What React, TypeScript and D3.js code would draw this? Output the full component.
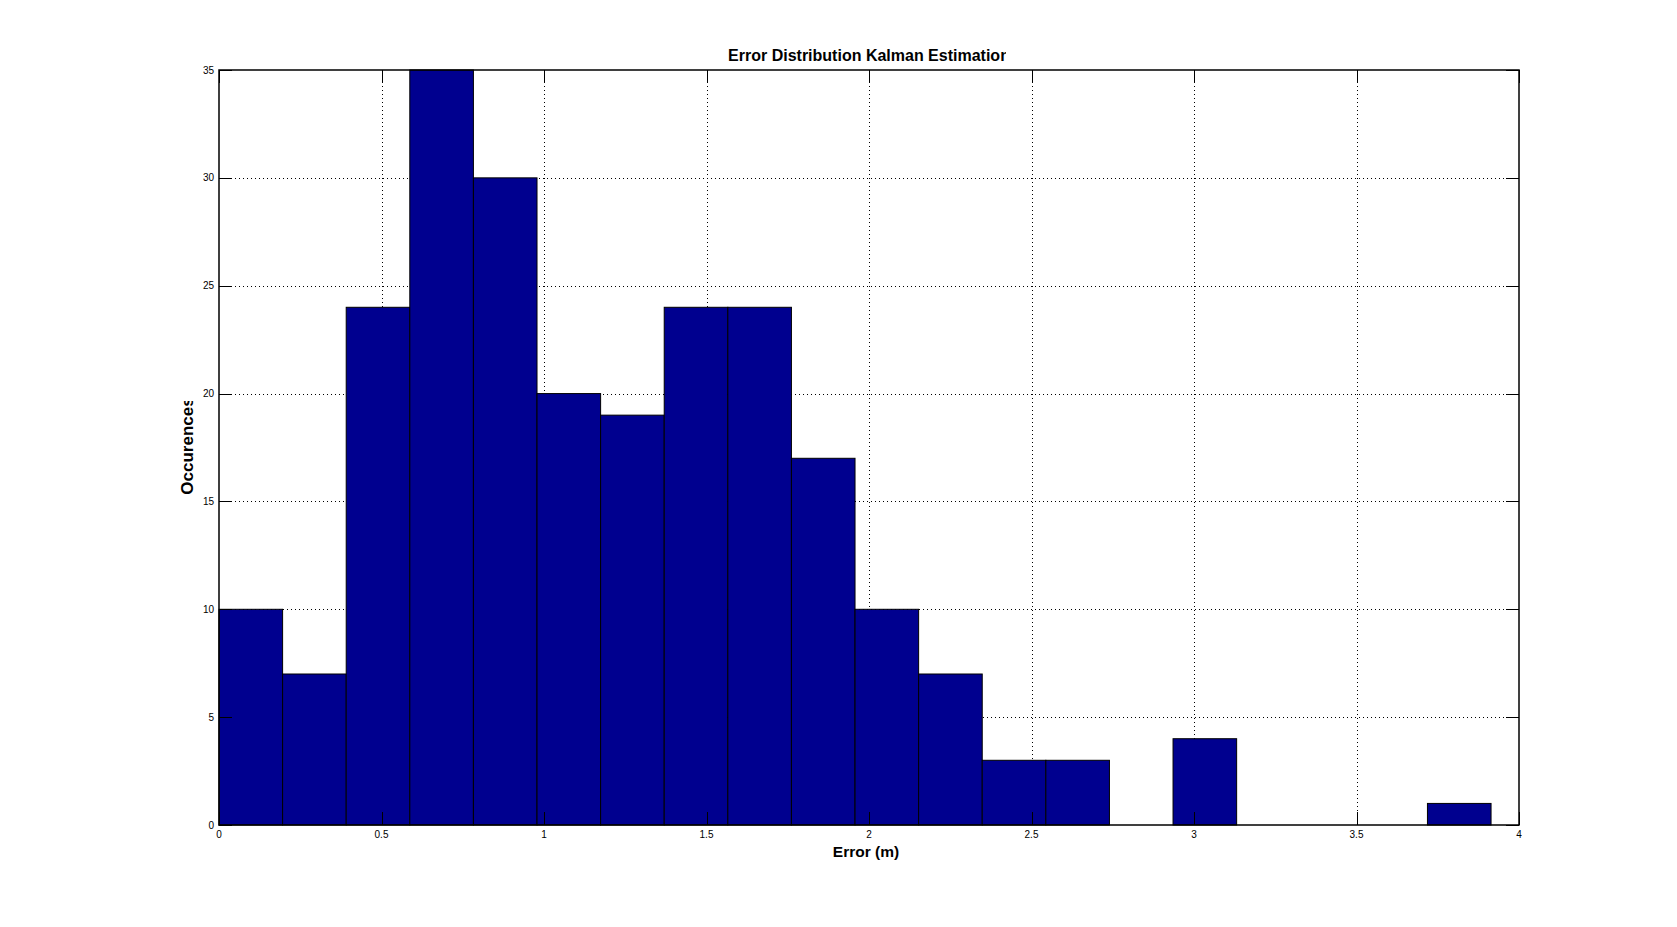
import React from 'react'
import * as d3 from 'd3'

// histogram counts, 20 equal bins starting at 0
const counts: number[] = [10, 7, 24, 35, 30, 20, 19, 24, 24, 17, 10, 7, 3, 3, 0, 4, 0, 0, 0, 1]
const binWidth = 0.1957
const xTicks: number[] = [0, 0.5, 1, 1.5, 2, 2.5, 3, 3.5, 4]
const yTicks: number[] = [0, 5, 10, 15, 20, 25, 30, 35]
const title = 'Error Distribution Kalman Estimation'
const xLabel = 'Error (m)'
const yLabel = 'Occurences'

const W = 1677
const H = 927
const left = 219
const right = 1519
const top = 70
const bottom = 825
const font = '"Liberation Sans", Arial, Helvetica, sans-serif'

const App: React.FC = () => {
  const x = d3.scaleLinear([0, 4], [left, right])
  const y = d3.scaleLinear([0, 35], [bottom, top])
  const tickLen = 13

  return (
    <svg width={W} height={H} style={{ position: 'absolute', left: 0, top: 0, background: '#fff' }}>
      <defs>
        {/* the original figure cuts the title and y label short */}
        <clipPath id="titleClip">
          <rect x={0} y={0} width={1006} height={H} />
        </clipPath>
        <clipPath id="ylabClip">
          <rect x={0} y={401} width={W} height={H} />
        </clipPath>
      </defs>
      <rect x={0} y={0} width={W} height={H} fill="#fff" />

      {/* grid */}
      <g stroke="#000" strokeWidth={1} strokeDasharray="1,3">
        {xTicks.slice(1, -1).map((t) => (
          <line key={'gx' + t} x1={Math.round(x(t)) + 0.5} x2={Math.round(x(t)) + 0.5} y1={top} y2={bottom} />
        ))}
        {yTicks.slice(1, -1).map((t) => (
          <line key={'gy' + t} x1={left} x2={right} y1={Math.round(y(t)) + 0.5} y2={Math.round(y(t)) + 0.5} />
        ))}
      </g>

      {/* bars */}
      <g fill="#00008f" stroke="#000" strokeWidth={1}>
        {counts.map((c, i) =>
          c > 0 ? (
            <rect
              key={i}
              x={x(i * binWidth)}
              y={y(c)}
              width={x((i + 1) * binWidth) - x(i * binWidth)}
              height={y(0) - y(c)}
            />
          ) : null
        )}
      </g>

      {/* ticks */}
      <g stroke="#000" strokeWidth={1}>
        {xTicks.map((t) => (
          <g key={'tx' + t}>
            <line x1={Math.round(x(t)) + 0.5} x2={Math.round(x(t)) + 0.5} y1={bottom} y2={bottom - tickLen} />
            <line x1={Math.round(x(t)) + 0.5} x2={Math.round(x(t)) + 0.5} y1={top} y2={top + tickLen} />
          </g>
        ))}
        {yTicks.map((t) => (
          <g key={'ty' + t}>
            <line x1={left} x2={left + tickLen} y1={Math.round(y(t)) + 0.5} y2={Math.round(y(t)) + 0.5} />
            <line x1={right} x2={right - tickLen} y1={Math.round(y(t)) + 0.5} y2={Math.round(y(t)) + 0.5} />
          </g>
        ))}
      </g>

      {/* axes box */}
      <rect x={left} y={top} width={right - left} height={bottom - top} fill="none" stroke="#000" strokeWidth={1.5} />

      {/* tick labels */}
      <g fontFamily={font} fontSize={10} fill="#000">
        {xTicks.map((t) => (
          <text key={'lx' + t} x={x(t)} y={bottom + 13} textAnchor="middle">
            {d3.format('~g')(t)}
          </text>
        ))}
        {yTicks.map((t) => (
          <text key={'ly' + t} x={left - 5} y={y(t) + 3.5} textAnchor="end">
            {t}
          </text>
        ))}
      </g>

      {/* title and labels */}
      <g clipPath="url(#titleClip)">
        <text
          x={(left + right) / 2}
          y={61}
          textAnchor="middle"
          fontFamily={font}
          fontSize={16}
          fontWeight="bold"
        >
          {title}
        </text>
      </g>
      <text
        x={(left + right) / 2 - 3}
        y={857}
        textAnchor="middle"
        fontFamily={font}
        fontSize={15.5}
        fontWeight="bold"
      >
        {xLabel}
      </text>
      <g clipPath="url(#ylabClip)">
        <text
          transform={`translate(193, 446) rotate(-90)`}
          textAnchor="middle"
          fontFamily={font}
          fontSize={17}
          fontWeight="bold"
        >
          {yLabel}
        </text>
      </g>
    </svg>
  )
}

export default App
